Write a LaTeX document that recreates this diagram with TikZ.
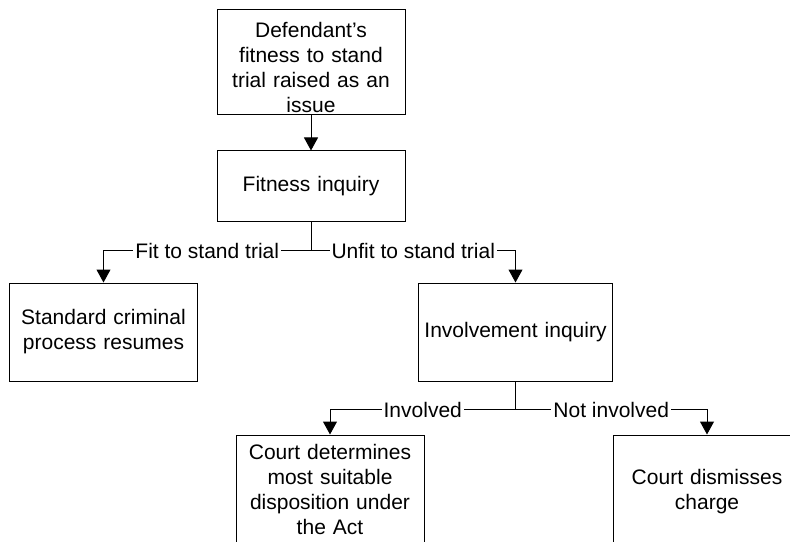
\documentclass[tikz,border=0pt]{standalone}
\usepackage{fontspec}
\setmainfont{Liberation Sans}
\usetikzlibrary{positioning,arrows.meta}

\begin{document}
\begin{tikzpicture}[
      x=1bp, y=-1bp,
      every node/.style={
        font=\fontsize{21bp}{25bp}\selectfont
      },
      stage/.style={
        draw,
        line width=1bp,
        align=center,
        text width=172bp,
        inner xsep=8bp,
        inner ysep=0pt
      },
      outcome/.style={
        fill=white,
        inner sep=2bp
      },
      flow/.style={
        line width=1bp,
        -{Triangle[width=14bp,length=13bp]}
      }
    ]
    \path[use as bounding box, clip] (0,0) rectangle (790,542);
    %% Stages
    \node[stage, minimum height=105bp] (issue) at (311,62.5) {%
        \rule{0pt}{25bp}Defendant's\\
        fitness to stand\\
        trial raised as an\\
        issue};
    \node[stage, minimum height=70bp, below=35bp of issue] (fitness) {Fitness inquiry};
    \coordinate[below=29bp of fitness] (fork-1);
    \node[stage, minimum height=98bp, below left=32bp and 113bp of fork-1] (standard) {%
        Standard criminal\\
        process resumes};
    \node[stage, minimum height=98bp, text width=190bp, inner xsep=2bp, below right=32bp and 107bp of fork-1] (involvement) {Involvement inquiry};
    \coordinate[below=28bp of involvement] (fork-2);
    \node[stage, minimum height=114bp, below left=25bp and 91bp of fork-2] (disposition) {%
        Court determines\\
        most suitable\\
        disposition under\\
        the Act\rule[-6bp]{0pt}{0pt}};
    \node[stage, minimum height=114bp, below right=25bp and 97bp of fork-2] (dismissal) {%
        Court dismisses\\
        charge};
    %% Connectors
    \draw[flow] (issue) -- (fitness);
    \draw[line width=1bp] (fitness) -- (fork-1);
    \draw[flow] (fork-1) -| node[pos=0.25, outcome] {Fit to stand trial} (standard);
    \draw[flow] (fork-1) -| node[pos=0.25, outcome] {Unfit to stand trial} (involvement);
    \draw[line width=1bp] (involvement) -- (fork-2);
    \draw[flow] (fork-2) -| node[pos=0.25, outcome] {Involved} (disposition);
    \draw[flow] (fork-2) -| node[pos=0.25, outcome] {Not involved} (dismissal);
  \end{tikzpicture}
\end{document}
